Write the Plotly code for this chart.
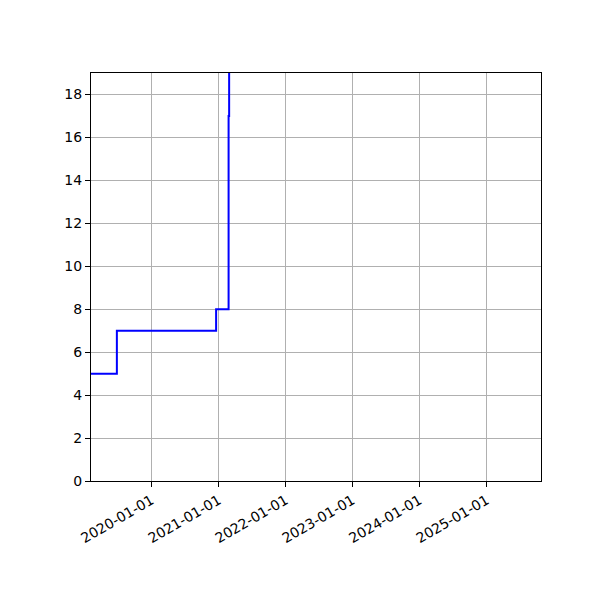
import plotly.graph_objects as go

dates = ["2019-02-05", "2019-06-26", "2020-12-18", "2021-02-24", "2021-02-27", "2021-03-10"]
values = [5, 7, 8, 17, 25, 25]
x_ticks = ["2020-01-01", "2021-01-01", "2022-01-01", "2023-01-01", "2024-01-01", "2025-01-01"]
y_ticks = [0, 2, 4, 6, 8, 10, 12, 14, 16, 18]
x_range = ["2019-02-05", "2025-10-24"]
y_range = [0, 19]

fig = go.Figure()
fig.add_trace(go.Scatter(x=dates, y=values, mode="lines", line_shape="hv",
                         line=dict(color="#0000ff", width=2), showlegend=False))

axis_common = dict(showline=True, linecolor="black", linewidth=1, mirror=True,
                   ticks="outside", ticklen=5, tickcolor="black", tickwidth=1,
                   showgrid=True, gridcolor="#b0b0b0", gridwidth=1, zeroline=False,
                   tickfont=dict(family="DejaVu Sans", size=14, color="black"))

fig.update_xaxes(range=x_range, tickvals=x_ticks, ticktext=x_ticks, tickangle=-30, **axis_common)
fig.update_yaxes(range=y_range, tickvals=y_ticks, **axis_common)

fig.update_layout(width=600, height=600, margin=dict(l=83, r=67, t=65, b=127),
                  plot_bgcolor="white", paper_bgcolor="white",
                  font=dict(family="DejaVu Sans", size=14, color="black"))

fig.write_html("out.html")
